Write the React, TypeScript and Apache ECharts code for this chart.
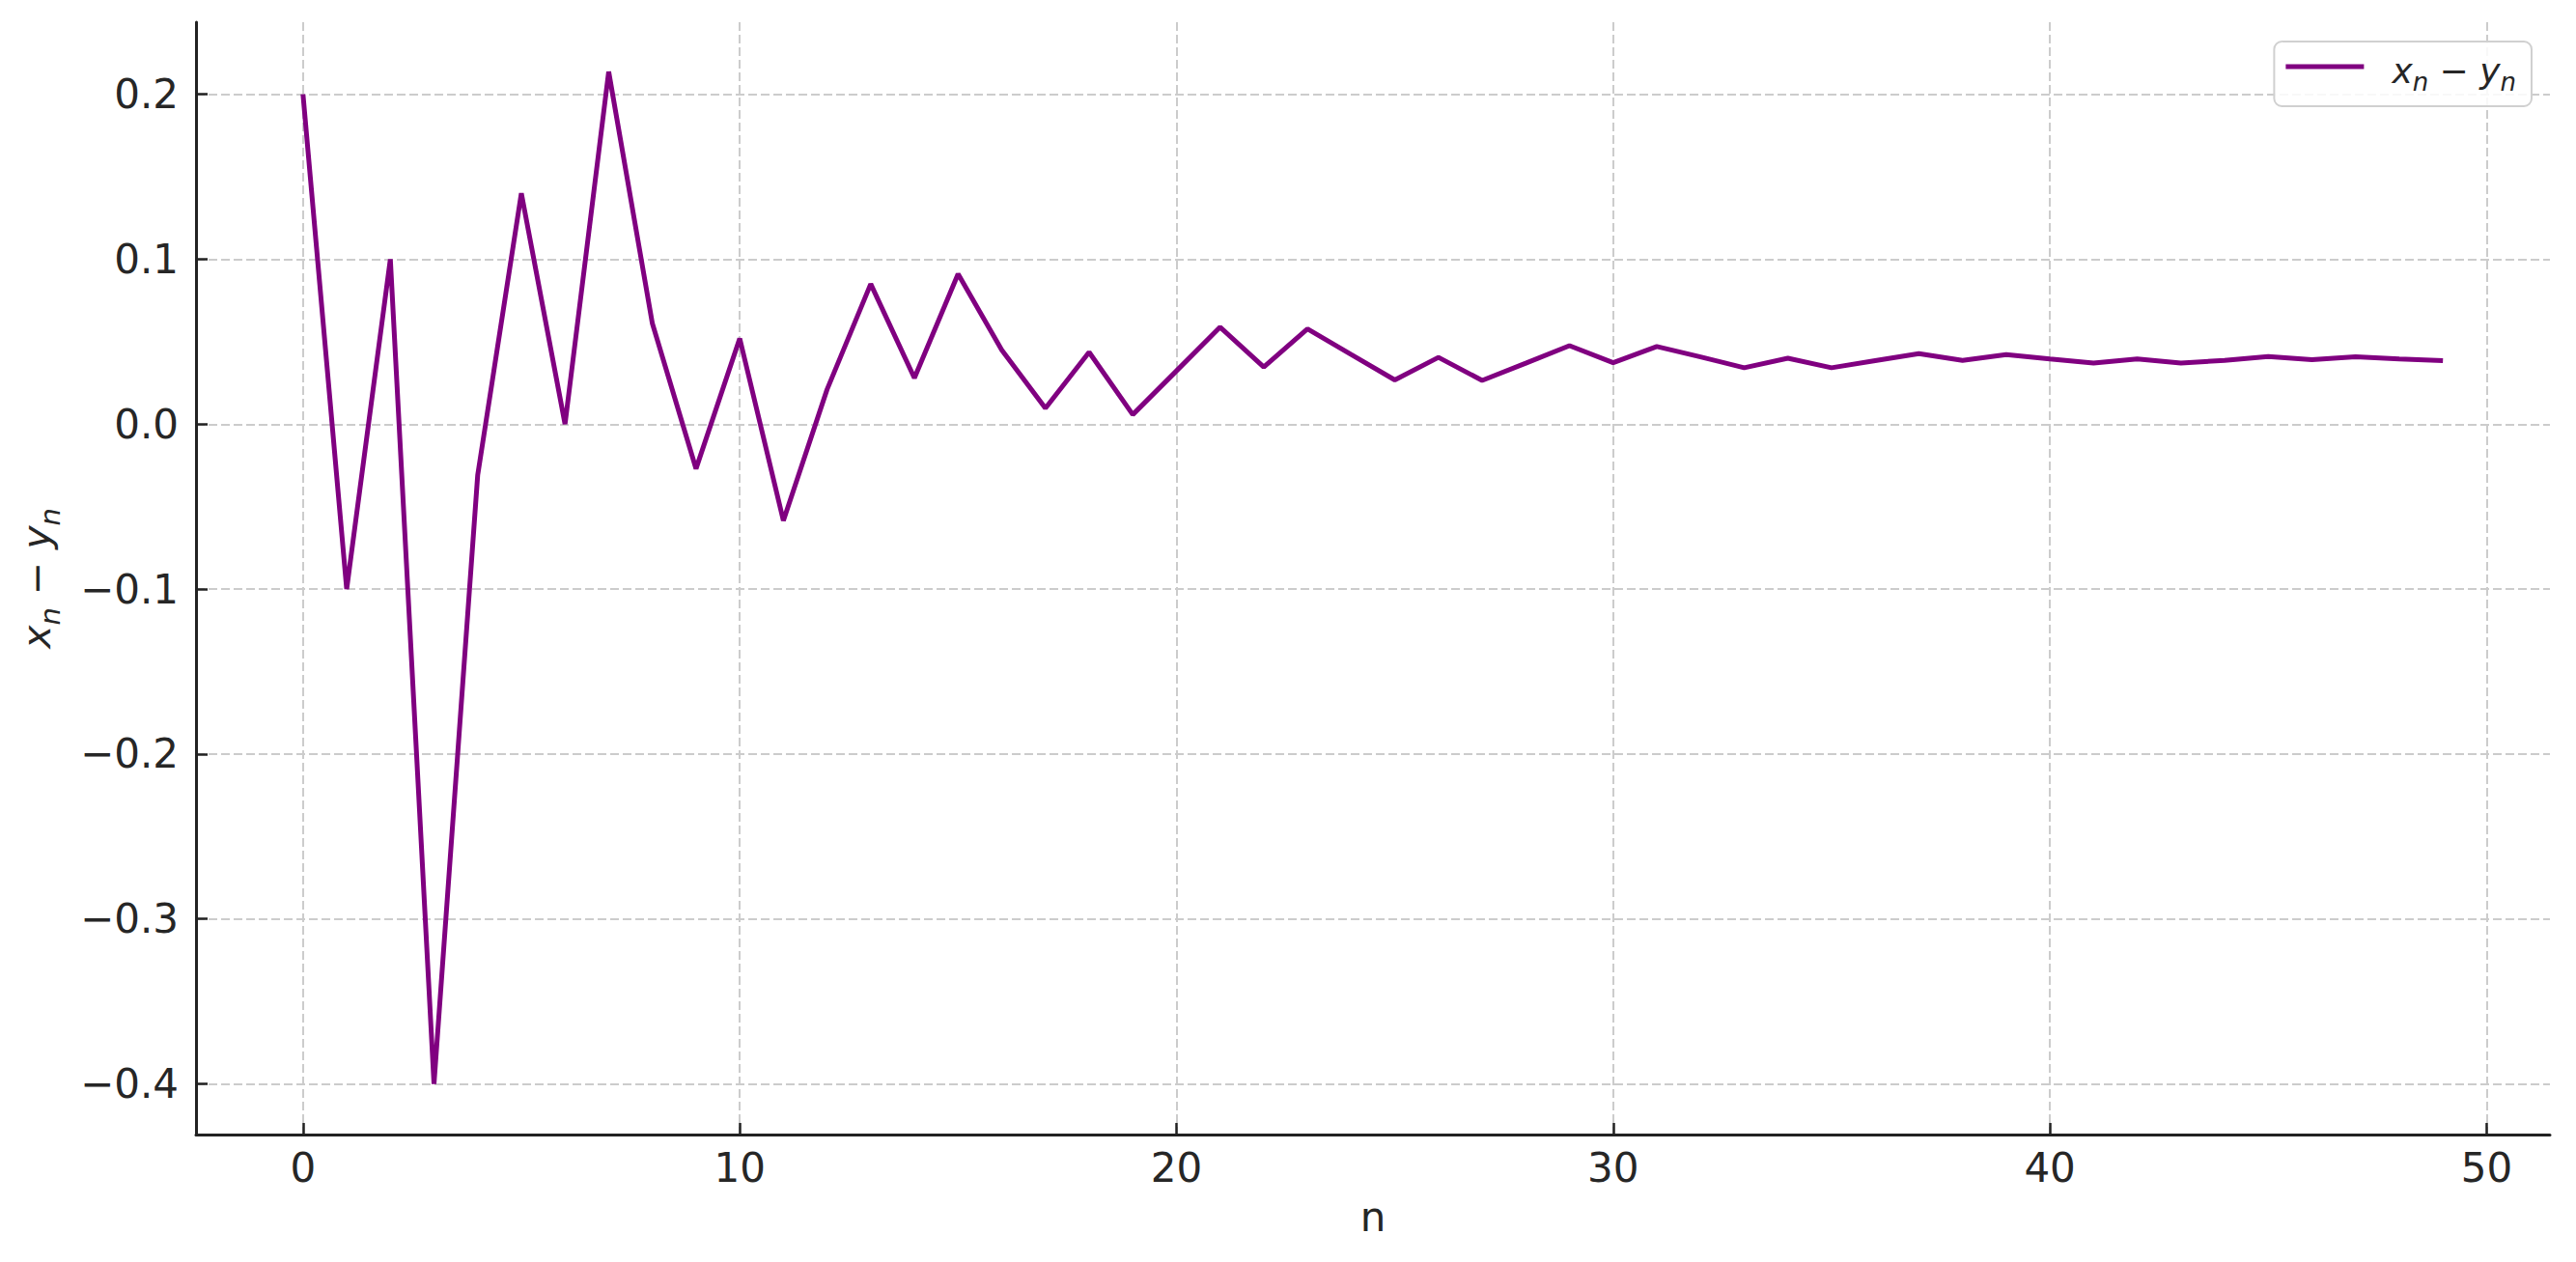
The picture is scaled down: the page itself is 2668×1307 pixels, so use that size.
import React, { useEffect, useRef } from "react";
import * as echarts from "echarts";

const nValues = [
  0, 1, 2, 3, 4, 5, 6, 7, 8, 9,
  10, 11, 12, 13, 14, 15, 16, 17, 18, 19,
  20, 21, 22, 23, 24, 25, 26, 27, 28, 29,
  30, 31, 32, 33, 34, 35, 36, 37, 38, 39,
  40, 41, 42, 43, 44, 45, 46, 47, 48, 49,
];

const diffValues = [
  0.2, -0.1, 0.1, -0.4, -0.031, 0.14, 0.0, 0.2137, 0.061, -0.027,
  0.052, -0.0585, 0.021, 0.085, 0.028, 0.091, 0.045, 0.0097, 0.0436, 0.0058,
  0.0323, 0.0588, 0.0346, 0.0578, 0.0422, 0.0268, 0.0405, 0.0265, 0.037, 0.0476,
  0.0373, 0.0471, 0.0408, 0.0342, 0.04, 0.0342, 0.0385, 0.0428, 0.0387, 0.0422,
  0.0396, 0.0371, 0.0396, 0.0371, 0.0387, 0.041, 0.0391, 0.0408, 0.0396, 0.0385,
];

const xTicks = [0, 10, 20, 30, 40, 50];
const yTicks = [-0.4, -0.3, -0.2, -0.1, 0.0, 0.1, 0.2];

const FONT = "DejaVu Sans";
const TEXT = "#262626";
const FS = 42;

function makeRich(size: number, sub: number, lh: number, drop: number) {
  return {
    i: { fontFamily: FONT, fontStyle: "italic", fontSize: size, color: TEXT, lineHeight: lh, verticalAlign: "bottom" },
    s: { fontFamily: FONT, fontStyle: "italic", fontSize: sub, color: TEXT, lineHeight: lh, verticalAlign: "bottom", padding: [0, 0, -drop, 0] },
    m: { fontFamily: FONT, fontSize: size, color: TEXT, lineHeight: lh, verticalAlign: "bottom" },
  };
}
const axisRich = makeRich(41, 29, 50, 8);
const legendRich = makeRich(36, 26, 44, 7);
const mathLabel = "{i|x}{s|n}{m| − }{i|y}{s|n}";

export default function App() {
  const ref = useRef<HTMLDivElement>(null);
  useEffect(() => {
    document.body.style.margin = "0";
    const chart = echarts.init(ref.current!, null, { renderer: "svg" });
    const dashed = { color: "#cccccc", width: 2, type: [9, 4] as any };
    chart.setOption({
      animation: false,
      backgroundColor: "#ffffff",
      grid: { left: 203, right: 27, top: 23, bottom: 132, containLabel: false },
      legend: {
        right: 46,
        top: 43,
        orient: "horizontal",
        data: [{ name: "diff", icon: "rect" }],
        itemWidth: 81,
        itemHeight: 5,
        padding: [12, 16, 12, 12],
        borderColor: "#d0d0d0",
        borderWidth: 2,
        borderRadius: 8,
        backgroundColor: "rgba(255,255,255,0.85)",
        formatter: () => mathLabel,
        textStyle: { padding: [0, 0, 0, 24], rich: legendRich },
      },
      xAxis: {
        type: "value",
        min: -2.45,
        max: 51.45,
        name: "n",
        nameLocation: "middle",
        nameGap: 64,
        nameTextStyle: { fontFamily: FONT, fontSize: FS, color: TEXT },
        axisLine: { show: true, onZero: false, lineStyle: { color: "#222", width: 3 } },
        axisTick: { show: true, inside: true, length: 12, customValues: xTicks, lineStyle: { color: "#222", width: 2.5 } },
        axisLabel: {
          customValues: xTicks,
          margin: 13,
          fontFamily: FONT,
          fontSize: FS,
          color: TEXT,
          formatter: (v: number) => String(v),
        },
        splitLine: { show: true, lineStyle: dashed },
      },
      yAxis: {
        type: "value",
        min: -0.4307,
        max: 0.2437,
        name: mathLabel,
        nameLocation: "middle",
        nameRotate: 90,
        nameGap: 145,
        nameTextStyle: { rich: axisRich },
        axisLine: { show: true, onZero: false, lineStyle: { color: "#222", width: 3 } },
        axisTick: { show: true, inside: true, length: 12, customValues: yTicks, lineStyle: { color: "#222", width: 2.5 } },
        axisLabel: {
          customValues: yTicks,
          margin: 18,
          fontFamily: FONT,
          fontSize: FS,
          color: TEXT,
          formatter: (v: number) => v.toFixed(1).replace("-", "\u2212").replace("\u22120.0", "0.0"),
        },
        splitLine: { show: true, lineStyle: dashed },
      },
      series: [
        {
          name: "diff",
          type: "line",
          data: nValues.map((n, i) => [n, diffValues[i]]),
          symbol: "none",
          color: "#800080",
          lineStyle: { color: "#800080", width: 5 },
        },
      ],
    });
    return () => chart.dispose();
  }, []);
  return <div ref={ref} style={{ width: 2668, height: 1307 }} />;
}
